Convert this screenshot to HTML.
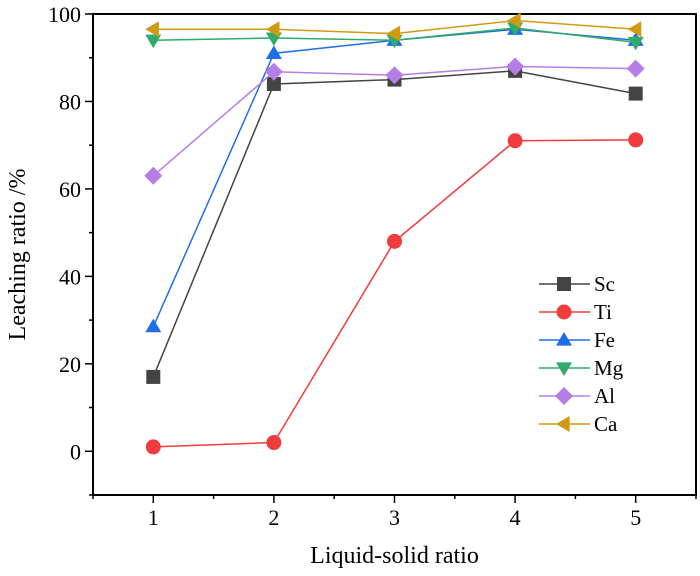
<!DOCTYPE html>
<html><head><meta charset="utf-8"><style>body{margin:0;background:#fff}svg{display:block;font-family:"Liberation Serif",serif}</style></head>
<body>
<svg id="c" width="700" height="576"></svg>
<script>
const categories=[1,2,3,4,5];
const yTicks=[0,20,40,60,80,100];
const seriesNames=["Sc","Ti","Fe","Mg","Al","Ca"];
const sc=[17,84,85,87,81.8];
const ti=[1,2,48,71,71.2];
const fe=[28.5,91,94,96.5,94];
const mg=[94,94.5,94,96.8,93.5];
const al=[63,86.8,86,88,87.5];
const ca=[96.5,96.5,95.5,98.5,96.5];
const values=[sc,ti,fe,mg,al,ca];
const colors=["#444444","#f03c3c","#1f6ee8","#2eaa6a","#b57ee6","#d19a12"];
const shapes=["square","circle","up","down","diamond","left"];
const L=93,R=696,T=14,B=495;
const x=v=>L+(v-0.5)/5*(R-L);
const y=v=>B-(v+10)/110*(B-T);
const svg=document.getElementById('c');
const NS="http://www.w3.org/2000/svg";
function mk(t,a,p){const e=document.createElementNS(NS,t);for(const k in a)e.setAttribute(k,a[k]);(p||svg).appendChild(e);return e;}
const frame=mk('rect',{x:L,y:T,width:R-L,height:B-T,fill:'none',stroke:'#000','stroke-width':2});

yTicks.forEach(v=>{const l=mk('line',{x1:L-8,x2:L,y1:y(v),y2:y(v),stroke:'#000','stroke-width':1.5});

const t=mk('text',{x:L-12,y:y(v)+8,'text-anchor':'end','font-size':22});t.textContent=v;

const m=mk('line',{x1:L-4,x2:L,y1:y(v+10),y2:y(v+10),stroke:'#000','stroke-width':1.5});
});
const m0=mk('line',{x1:L-4,x2:L,y1:y(-10),y2:y(-10),stroke:'#000','stroke-width':1.5});

categories.forEach(c=>{const l=mk('line',{x1:x(c),x2:x(c),y1:B,y2:B+8,stroke:'#000','stroke-width':1.5});

const t=mk('text',{x:x(c),y:B+30,'text-anchor':'middle','font-size':22});t.textContent=c;
});
[0.5,1.5,2.5,3.5,4.5,5.5].forEach(c=>{const l=mk('line',{x1:x(c),x2:x(c),y1:B,y2:B+4,stroke:'#000','stroke-width':1.5});
});
const xt=mk('text',{x:(L+R)/2,y:563,'text-anchor':'middle','font-size':24});xt.textContent='Liquid-solid ratio';

const yt=mk('text',{x:0,y:0,'text-anchor':'middle','font-size':24,transform:'translate(25,'+(T+B)/2+') rotate(-90)'});yt.textContent='Leaching ratio /%';

function marker(s,cx,cy,col,g){const r=8;let e;
if(s==='square')e=mk('rect',{x:cx-7,y:cy-7,width:14,height:14,fill:col},g);
else if(s==='circle')e=mk('circle',{cx,cy,r:7.5,fill:col},g);
else{let p;if(s==='up')p=[[cx,cy-r],[cx+r,cy+r*0.7],[cx-r,cy+r*0.7]];
else if(s==='down')p=[[cx,cy+r],[cx+r,cy-r*0.7],[cx-r,cy-r*0.7]];
else if(s==='diamond')p=[[cx,cy-r-1],[cx+r+1,cy],[cx,cy+r+1],[cx-r-1,cy]];
else p=[[cx-r,cy],[cx+r*0.7,cy-r],[cx+r*0.7,cy+r]];
e=mk('polygon',{points:p.map(q=>q.join(',')).join(' '),fill:col},g);}
return e;}
values.forEach((vals,i)=>{const g=mk('g',{});

const pl=mk('polyline',{points:vals.map((v,j)=>x(categories[j])+','+y(v)).join(' '),fill:'none',stroke:colors[i],'stroke-width':1.5},g);

vals.forEach((v,j)=>{const m=marker(shapes[i],x(categories[j]),y(v),colors[i],g);
});});
const lg=mk('g',{});
seriesNames.forEach((n,i)=>{const yy=284+i*28;const e=mk('g',{},lg);

mk('line',{x1:539,x2:590,y1:yy,y2:yy,stroke:colors[i],'stroke-width':1.5},e);
marker(shapes[i],564,yy,colors[i],e);
const t=mk('text',{x:594,y:yy+7,'font-size':21},e);t.textContent=n;});
</script>
</body></html>
